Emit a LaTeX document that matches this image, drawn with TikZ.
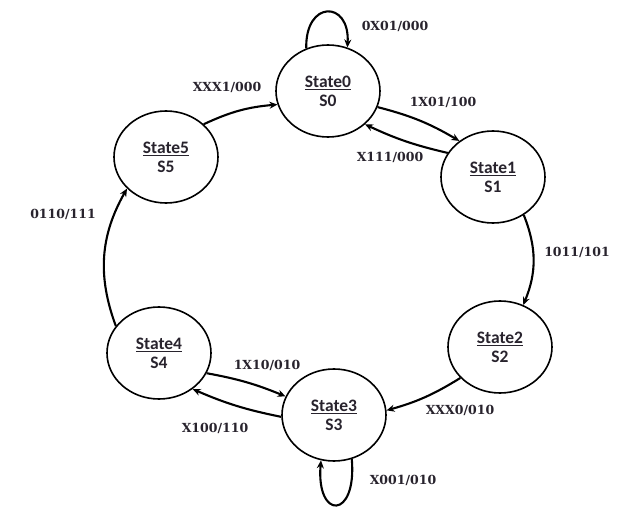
\documentclass[tikz,border=0pt]{standalone}
\usepackage{fontspec}
\usetikzlibrary{arrows.meta,shapes.geometric}
\newfontfamily\lblfont{DejaVu Serif}
\newfontfamily\stfont{Carlito}
\definecolor{txt}{RGB}{40,35,45}
\begin{document}
\begin{tikzpicture}[x=1pt,y=-1pt,
  stnode/.style={draw, line width=1.6pt, ellipse, minimum width=104pt, minimum height=92pt, inner sep=0pt, align=center, font=\stfont\bfseries\fontsize{17.5}{19}\selectfont, text=txt},
  lbl/.style={font=\lblfont\bfseries\fontsize{12.5}{14}\selectfont, text=txt, inner sep=0pt},
  tr/.style={line width=2.1pt, -{Stealth[length=8pt,width=7pt]}}]
\useasboundingbox (0,0) rectangle (625,516);
\node[stnode] (s0) at (328,91) {\underline{State0}\\S0};
\node[stnode] (s1) at (493,177) {\underline{State1}\\S1};
\node[stnode] (s2) at (500,347) {\underline{State2}\\S2};
\node[stnode] (s3) at (334,415) {\underline{State3}\\S3};
\node[stnode] (s4) at (159,353) {\underline{State4}\\S4};
\node[stnode] (s5) at (166,157) {\underline{State5}\\S5};
% self loops
\draw[tr] (s0.117) .. controls (305,0) and (350,0) .. (s0.66);
\draw[tr] (s3.-68) .. controls (357,520) and (316,520) .. (s3.-106);
% transitions
\draw[tr] (s0.-18) to[bend left=8] (s1.133);
\draw[tr] (s1.152) to[bend left=6] (s0.-42);
\draw[tr] (s1.-51) to[bend left=22] (s2.61);
\draw[tr] (s2.218) to[bend left=8] (s3.5);
\draw[tr] (s3.182) to[bend left=6] (s4.-47);
\draw[tr] (s4.-23) to[bend left=6] (s3.159);
\draw[tr] (s4.148) to[bend left=25] (s5.219);
\draw[tr] (s5.41) to[bend left=10] (s0.195);
% labels
\node[lbl] (l00) at (395,26) {0X01/000};
\node[lbl] (l01) at (443,102) {1X01/100};
\node[lbl] (l10) at (390,157) {X111/000};
\node[lbl] (l12) at (577,252) {1011/101};
\node[lbl] (l23) at (460,410) {XXX0/010};
\node[lbl] (l33) at (403,480) {X001/010};
\node[lbl] (l34) at (215,428) {X100/110};
\node[lbl] (l43) at (267,365) {1X10/010};
\node[lbl] (l45) at (63,214) {0110/111};
\node[lbl] (l50) at (227,87) {XXX1/000};
\end{tikzpicture}
\end{document}
